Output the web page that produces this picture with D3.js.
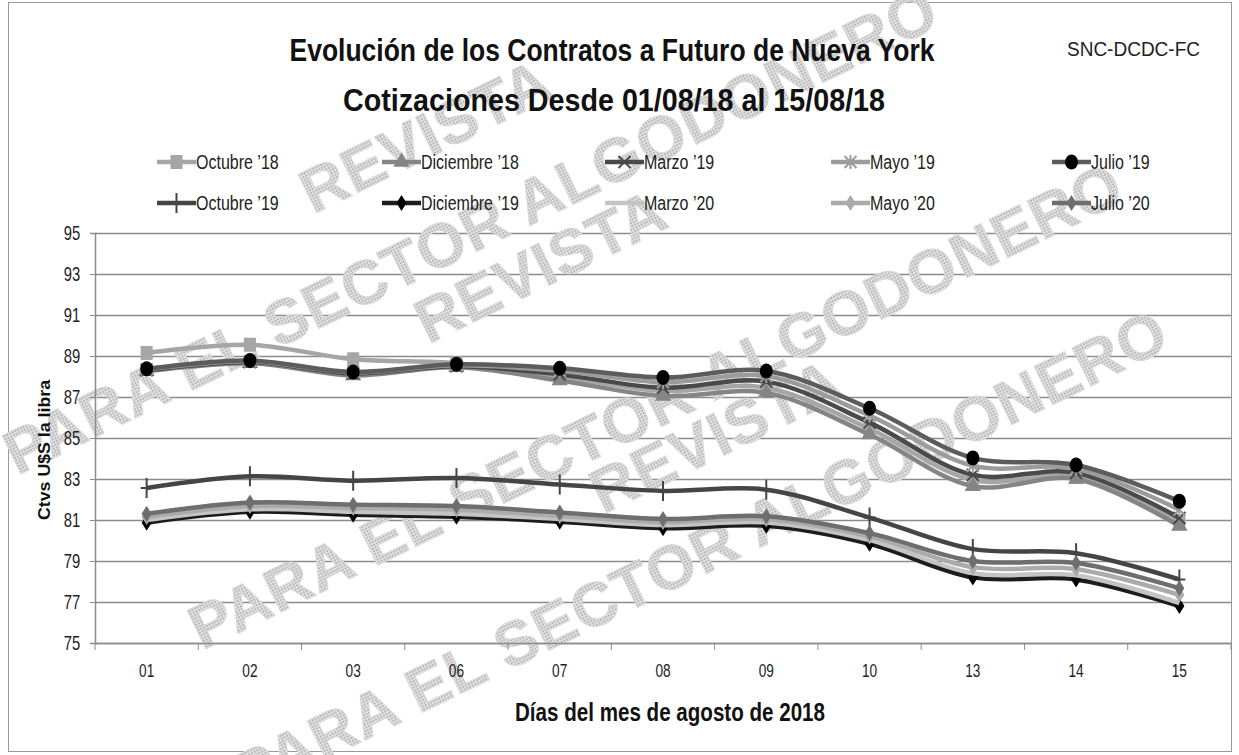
<!DOCTYPE html>
<html>
<head>
<meta charset="utf-8">
<script src="https://cdn.jsdelivr.net/npm/d3@7"></script>
<style>
  body { margin: 0; background: #fff; }
  svg { display: block; }
  text { font-family: "Liberation Sans", "DejaVu Sans", sans-serif; }
</style>
</head>
<body>
<svg width="1239" height="755"></svg>
<script>
'use strict';

// days of August 2018 (categories)
var dias = ['01', '02', '03', '06', '07', '08', '09', '10', '13', '14', '15'];
var yTicks = [75, 77, 79, 81, 83, 85, 87, 89, 91, 93, 95];

// quotes, cents US$ per pound
var octubre18   = [89.15, 89.55, 88.84, 88.65, 88.00, 87.30, 87.45, 85.45, 82.95, 83.10, 80.85];
var diciembre18 = [88.25, 88.65, 88.05, 88.45, 87.80, 87.05, 87.20, 85.17, 82.65, 83.00, 80.70];
var marzo19     = [88.30, 88.70, 88.15, 88.50, 88.10, 87.45, 87.75, 85.75, 83.20, 83.30, 81.10];
var mayo19      = [88.35, 88.74, 88.20, 88.55, 88.28, 87.72, 88.02, 86.10, 83.65, 83.50, 81.50];
var julio19     = [88.38, 88.78, 88.22, 88.60, 88.40, 87.95, 88.27, 86.45, 84.03, 83.68, 81.92];
var octubre19   = [82.56, 83.13, 82.92, 83.05, 82.73, 82.42, 82.48, 81.12, 79.58, 79.38, 78.10];
var diciembre19 = [80.87, 81.40, 81.26, 81.16, 80.92, 80.60, 80.72, 79.84, 78.20, 78.10, 76.80];
var marzo20     = [81.00, 81.52, 81.40, 81.30, 81.05, 80.75, 80.88, 80.02, 78.40, 78.30, 76.95];
var mayo20      = [81.15, 81.68, 81.58, 81.50, 81.20, 80.90, 81.04, 80.20, 78.70, 78.60, 77.35];
var julio20     = [81.30, 81.85, 81.75, 81.68, 81.37, 81.05, 81.18, 80.36, 79.00, 78.90, 77.67];

var series = [
    { name: 'Octubre \u201918',   values: octubre18,   color: '#a6a6a6', mark: 'square',   mcolor: '#a6a6a6' },
    { name: 'Diciembre \u201918', values: diciembre18, color: '#858585', mark: 'triangle', mcolor: '#858585' },
    { name: 'Marzo \u201919',     values: marzo19,     color: '#4a4a4a', mark: 'x',        mcolor: '#4a4a4a' },
    { name: 'Mayo \u201919',      values: mayo19,      color: '#9c9c9c', mark: 'star',     mcolor: '#9c9c9c' },
    { name: 'Julio \u201919',     values: julio19,     color: '#5c5c5c', mark: 'circle',   mcolor: '#000000' },
    { name: 'Octubre \u201919',   values: octubre19,   color: '#454545', mark: 'plus',     mcolor: '#454545' },
    { name: 'Diciembre \u201919', values: diciembre19, color: '#1c1c1c', mark: 'diamond',  mcolor: '#000000' },
    { name: 'Marzo \u201920',     values: marzo20,     color: '#c4c4c4', mark: 'none',     mcolor: '#c4c4c4' },
    { name: 'Mayo \u201920',      values: mayo20,      color: '#ababab', mark: 'diamond',  mcolor: '#ababab' },
    { name: 'Julio \u201920',     values: julio20,     color: '#6e6e6e', mark: 'diamond',  mcolor: '#6e6e6e' }
];

var svg = d3.select('svg');
svg.append('rect').attr('width', 1239).attr('height', 755).attr('fill', '#fff');

// dotted texture for the watermark
var defs = svg.append('defs');
var pat = defs.append('pattern').attr('id', 'dots')
    .attr('width', 3).attr('height', 3).attr('patternUnits', 'userSpaceOnUse');
pat.append('rect').attr('width', 3).attr('height', 3).attr('fill', '#e6e6e6');
pat.append('rect').attr('width', 2).attr('height', 2).attr('fill', '#b8b8b8');

// outer frame
svg.append('rect')
    .attr('x', 8.5).attr('y', 2.5).attr('width', 1223).attr('height', 749)
    .attr('fill', 'none').attr('stroke', '#9a9a9a');

var x = d3.scaleBand().domain(dias).range([95, 1231]).paddingInner(0).paddingOuter(0);
var y = d3.scaleLinear().domain([75, 95]).range([643, 233]);

// gridlines
svg.append('g')
    .attr('transform', 'translate(95,0)')
    .call(d3.axisLeft(y).tickValues(yTicks).tickSize(-1136).tickFormat(''))
    .call(function (g) {
        g.select('.domain').remove();
        g.selectAll('line').attr('stroke', '#8c8c8c').attr('stroke-width', 1.5);
    });

// watermark
var wm = svg.append('g').attr('fill', 'url(#dots)').attr('stroke', '#d6d6d6')
    .attr('stroke-width', 1).attr('font-weight', 'bold').attr('font-size', 62)
    .style('font-family', '"DejaVu Sans", sans-serif');
var wmRows = [
    { t: 'REVISTA', x: 435, y: 155 },
    { t: 'PARA EL SECTOR ALGODONERO', x: 480, y: 250 },
    { t: 'REVISTA', x: 550, y: 285 },
    { t: 'PARA EL SECTOR ALGODONERO', x: 665, y: 425 },
    { t: 'REVISTA', x: 725, y: 455 },
    { t: 'PARA EL SECTOR ALGODONERO', x: 710, y: 572 }
];
wm.selectAll('text').data(wmRows).enter().append('text')
    .attr('text-anchor', 'middle')
    .attr('transform', function (d) { return 'translate(' + d.x + ',' + d.y + ') rotate(-26)'; })
    .style('letter-spacing', '1px')
    .text(function (d) { return d.t; });

// y axis
svg.append('g')
    .attr('transform', 'translate(95,0)')
    .call(d3.axisLeft(y).tickValues(yTicks).tickSize(5).tickPadding(15))
    .call(function (g) {
        g.select('.domain').attr('stroke', '#8c8c8c').attr('stroke-width', 1.5);
        g.selectAll('line').attr('stroke', '#8c8c8c');
        g.selectAll('text').attr('font-size', 20).attr('fill', '#222')
            .attr('transform', 'scale(0.74,1)');
    });

// x axis: labels at centres, tick marks between categories
var xAxis = svg.append('g').attr('transform', 'translate(0,643)');
xAxis.call(d3.axisBottom(x).tickSize(0).tickPadding(21))
    .call(function (g) {
        g.select('.domain').attr('stroke', '#8c8c8c').attr('stroke-width', 1.5);
        g.selectAll('text').attr('font-size', 19).attr('fill', '#222')
            .attr('transform', 'scale(0.72,1)');
    });
xAxis.selectAll('line.sep').data(dias.concat(['end'])).enter().append('line')
    .attr('class', 'sep')
    .attr('x1', function (d) { return d === 'end' ? x.range()[1] : x(d); })
    .attr('x2', function (d) { return d === 'end' ? x.range()[1] : x(d); })
    .attr('y1', 0).attr('y2', 7)
    .attr('stroke', '#8c8c8c');

// marker drawing
function drawMark(sel, type, color, cx, cy) {
    var s;
    if (type === 'square') {
        sel.append('rect').attr('x', cx - 6).attr('y', cy - 7).attr('width', 12).attr('height', 14).attr('fill', color);
    } else if (type === 'triangle') {
        s = d3.symbol().type(d3.symbolTriangle).size(115);
        sel.append('path').attr('d', s()).attr('transform', 'translate(' + cx + ',' + cy + ')').attr('fill', color);
    } else if (type === 'circle') {
        sel.append('ellipse').attr('cx', cx).attr('cy', cy).attr('rx', 6.5).attr('ry', 7.5).attr('fill', color);
    } else if (type === 'diamond') {
        sel.append('path').attr('d', 'M0,-8L5,0L0,8L-5,0Z').attr('transform', 'translate(' + cx + ',' + cy + ')').attr('fill', color);
    } else if (type === 'x') {
        sel.append('path').attr('d', 'M-6,-6L6,6M-6,6L6,-6').attr('transform', 'translate(' + cx + ',' + cy + ')')
            .attr('stroke', color).attr('stroke-width', 2);
    } else if (type === 'star') {
        sel.append('path').attr('d', 'M-6,-6L6,6M-6,6L6,-6M0,-7L0,7').attr('transform', 'translate(' + cx + ',' + cy + ')')
            .attr('stroke', color).attr('stroke-width', 2);
    } else if (type === 'plus') {
        sel.append('path').attr('d', 'M0,-10L0,10M-6,0L6,0').attr('transform', 'translate(' + cx + ',' + cy + ')')
            .attr('stroke', color).attr('stroke-width', 2);
    }
}

// lines
var line = d3.line()
    .x(function (d, i) { return x(dias[i]) + x.bandwidth() / 2; })
    .y(function (d) { return y(d); })
    .curve(d3.curveCatmullRom.alpha(0.5));

var plot = svg.append('g');
series.forEach(function (s) {
    var g = plot.append('g');
    g.append('path')
        .attr('d', line(s.values))
        .attr('fill', 'none')
        .attr('stroke', s.color)
        .attr('stroke-width', 4.5)
        .attr('stroke-linejoin', 'round');
    s.values.forEach(function (v, i) {
        drawMark(g, s.mark, s.mcolor, x(dias[i]) + x.bandwidth() / 2, y(v));
    });
});

// legend
var legCols = [157, 382, 605, 831, 1052];
var legRows = [162, 203];
var legend = svg.append('g');
series.forEach(function (s, i) {
    var lx = legCols[i % 5];
    var ly = legRows[Math.floor(i / 5)];
    var g = legend.append('g');
    g.append('line').attr('x1', lx).attr('x2', lx + 39).attr('y1', ly).attr('y2', ly)
        .attr('stroke', s.color).attr('stroke-width', 4.5);
    drawMark(g, s.mark, s.mcolor, lx + 19.5, ly);
    g.append('text')
        .attr('transform', 'translate(' + (lx + 39) + ',' + (ly + 7) + ') scale(0.8,1)')
        .attr('font-size', 20).attr('fill', '#222')
        .text(s.name);
});

// titles
svg.append('text').attr('x', 612).attr('y', 61).attr('text-anchor', 'middle')
    .attr('font-size', 32).attr('font-weight', 'bold').attr('fill', '#111')
    .attr('textLength', 645).attr('lengthAdjust', 'spacingAndGlyphs')
    .text('Evolución de los Contratos a Futuro de Nueva York');
svg.append('text').attr('x', 614).attr('y', 111).attr('text-anchor', 'middle')
    .attr('font-size', 32).attr('font-weight', 'bold').attr('fill', '#111')
    .attr('textLength', 542).attr('lengthAdjust', 'spacingAndGlyphs')
    .text('Cotizaciones Desde 01/08/18 al 15/08/18');
svg.append('text').attr('x', 1067).attr('y', 56)
    .attr('font-size', 20).attr('fill', '#222')
    .attr('textLength', 133).attr('lengthAdjust', 'spacingAndGlyphs')
    .text('SNC-DCDC-FC');

// axis titles
svg.append('text').attr('transform', 'translate(50,450) rotate(-90)')
    .attr('text-anchor', 'middle').attr('font-size', 16).attr('font-weight', 'bold').attr('fill', '#111')
    .attr('textLength', 140).attr('lengthAdjust', 'spacingAndGlyphs')
    .text('Ctvs U$S la libra');
svg.append('text').attr('x', 670).attr('y', 721).attr('text-anchor', 'middle')
    .attr('font-size', 25).attr('font-weight', 'bold').attr('fill', '#111')
    .attr('textLength', 310).attr('lengthAdjust', 'spacingAndGlyphs')
    .text('Días del mes de agosto de 2018');
</script>
</body>
</html>
